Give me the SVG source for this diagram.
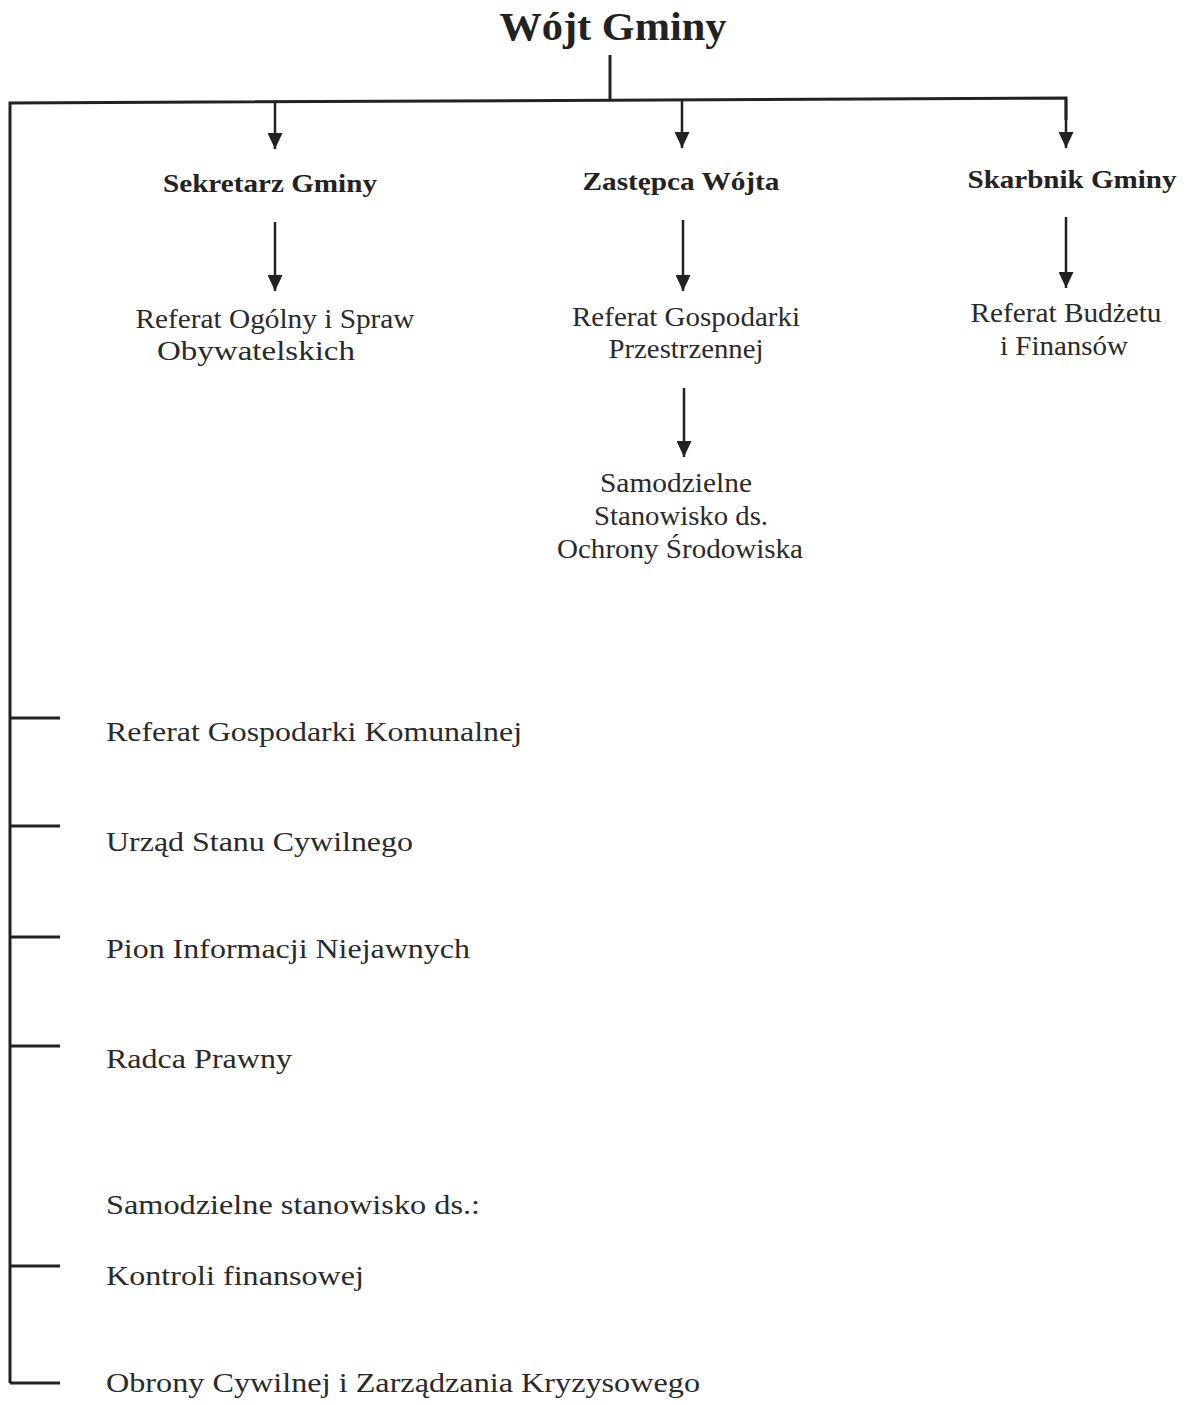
<svg xmlns="http://www.w3.org/2000/svg" width="1187" height="1405" viewBox="0 0 1187 1405">
<style>
.t{font-family:"Liberation Serif","Times New Roman",serif;fill:#2a2a2a;font-size:28px}
.b{font-weight:bold;font-size:25px;fill:#222}
.h{font-weight:bold;font-size:39px;fill:#222}
.c{text-anchor:middle}
.ln{stroke:#222;stroke-width:3;fill:none}
.ar{stroke:#222;stroke-width:2.5;fill:none;marker-end:url(#ah)}
</style>
<defs>
<marker id="ah" markerUnits="userSpaceOnUse" markerWidth="17" markerHeight="15" refX="16" refY="7.5" orient="auto" viewBox="0 0 17 15">
<path d="M0,0 L16,7.5 L0,15 Z" fill="#222"/>
</marker>
</defs>
<rect width="1187" height="1405" fill="#fff"/>
<g id="connectors">
<path class="ln" d="M610,55 V101"/>
<path class="ln" d="M10,1383 V103 L1066,98 V120"/>
<path class="ln" d="M10,718 H60 M10,826 H60 M10,937 H60 M10,1046 H60 M10,1266 H60 M10,1383 H60"/>
<path class="ar" d="M275,102 V149"/>
<path class="ar" d="M682,100 V148"/>
<path class="ar" d="M1066,98 V148"/>
<path class="ar" d="M275,222 V291"/>
<path class="ar" d="M683,220 V291"/>
<path class="ar" d="M1066,217 V288"/>
<path class="ar" d="M684,388 V457"/>
</g>
<g id="wojt"><text class="t h c" x="613" y="40" textLength="227" lengthAdjust="spacingAndGlyphs">Wójt Gminy</text></g>
<g id="sekretarz"><text class="t b c" x="270" y="192" textLength="214" lengthAdjust="spacingAndGlyphs">Sekretarz Gminy</text></g>
<g id="zastepca"><text class="t b c" x="681" y="190" textLength="197" lengthAdjust="spacingAndGlyphs">Zastępca Wójta</text></g>
<g id="skarbnik"><text class="t b c" x="1072" y="188" textLength="209" lengthAdjust="spacingAndGlyphs">Skarbnik Gminy</text></g>
<g id="ref-ogolny">
<text class="t c" x="275" y="328" textLength="279" lengthAdjust="spacingAndGlyphs">Referat Ogólny i Spraw</text>
<text class="t c" x="256" y="360" textLength="198" lengthAdjust="spacingAndGlyphs">Obywatelskich</text>
</g>
<g id="ref-przestrzenny">
<text class="t c" x="686" y="326" textLength="228" lengthAdjust="spacingAndGlyphs">Referat Gospodarki</text>
<text class="t c" x="686" y="358" textLength="155" lengthAdjust="spacingAndGlyphs">Przestrzennej</text>
</g>
<g id="ref-budzet">
<text class="t c" x="1066" y="322" textLength="191" lengthAdjust="spacingAndGlyphs">Referat Budżetu</text>
<text class="t c" x="1064" y="355" textLength="128" lengthAdjust="spacingAndGlyphs">i Finansów</text>
</g>
<g id="ochrona">
<text class="t c" x="676" y="492" textLength="152" lengthAdjust="spacingAndGlyphs">Samodzielne</text>
<text class="t c" x="681" y="525" textLength="174" lengthAdjust="spacingAndGlyphs">Stanowisko ds.</text>
<text class="t c" x="680" y="558" textLength="246" lengthAdjust="spacingAndGlyphs">Ochrony Środowiska</text>
</g>
<g id="komunalna"><text class="t" x="106" y="741" textLength="416" lengthAdjust="spacingAndGlyphs">Referat Gospodarki Komunalnej</text></g>
<g id="usc"><text class="t" x="106" y="851" textLength="307" lengthAdjust="spacingAndGlyphs">Urząd Stanu Cywilnego</text></g>
<g id="pion"><text class="t" x="106" y="958" textLength="364" lengthAdjust="spacingAndGlyphs">Pion Informacji Niejawnych</text></g>
<g id="radca"><text class="t" x="106" y="1068" textLength="186" lengthAdjust="spacingAndGlyphs">Radca Prawny</text></g>
<g id="samodzielne"><text class="t" x="106" y="1214" textLength="374" lengthAdjust="spacingAndGlyphs">Samodzielne stanowisko ds.:</text></g>
<g id="kontrola"><text class="t" x="106" y="1285" textLength="258" lengthAdjust="spacingAndGlyphs">Kontroli finansowej</text></g>
<g id="obrona"><text class="t" x="106" y="1392" textLength="594" lengthAdjust="spacingAndGlyphs">Obrony Cywilnej i Zarządzania Kryzysowego</text></g>
</svg>
